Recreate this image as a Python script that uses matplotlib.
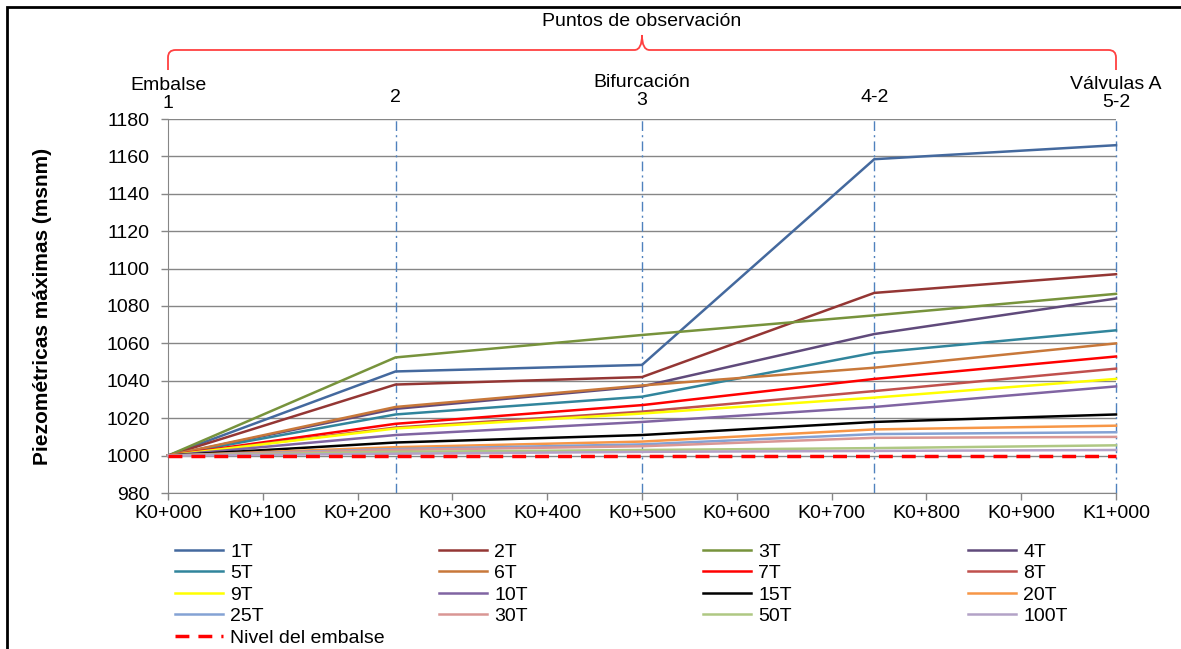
import matplotlib
matplotlib.use("Agg")
import matplotlib.pyplot as plt
from matplotlib.path import Path
from matplotlib.patches import PathPatch, Rectangle

plt.rcParams['font.family'] = ['Liberation Sans', 'DejaVu Sans']

#----------------------------------------------------------------------------------
# Data
stations = [0, 240, 500, 745, 1000]          # chainage of observation points (m)
station_names = ["Embalse\n1", "2", "Bifurcación\n3", "4-2", "Válvulas A\n5-2"]
xtick_labels = ["K0+000", "K0+100", "K0+200", "K0+300", "K0+400", "K0+500",
                "K0+600", "K0+700", "K0+800", "K0+900", "K1+000"]

series_names = ["1T", "2T", "3T", "4T", "5T", "6T", "7T", "8T", "9T",
                "10T", "15T", "20T", "25T", "30T", "50T", "100T"]
p_1T = [1000, 1045, 1048.5, 1158.5, 1166]
p_2T = [1000, 1038, 1042, 1087, 1097]
p_3T = [1000, 1052.5, 1064.5, 1075, 1086.5]
p_4T = [1000, 1025, 1037, 1065, 1084]
p_5T = [1000, 1022, 1031.5, 1055, 1067]
p_6T = [1000, 1026, 1037.5, 1047, 1060]
p_7T = [1000, 1017, 1027, 1041, 1053]
p_8T = [1000, 1015, 1023.5, 1034.5, 1046.5]
p_9T = [1000, 1014.5, 1022.5, 1031, 1041]
p_10T = [1000, 1011, 1018, 1026, 1037]
p_15T = [1000, 1007, 1011, 1018, 1022]
p_20T = [1000, 1004.5, 1007.5, 1014, 1016]
p_25T = [1000, 1003.5, 1006, 1011.5, 1012.5]
p_30T = [1000, 1003, 1005, 1009.5, 1010]
p_50T = [1000, 1002, 1003, 1004, 1005.5]
p_100T = [1000, 1001, 1002, 1002.5, 1003]
reservoir_level = [1000, 1000, 1000, 1000, 1000]

series_values = [p_1T, p_2T, p_3T, p_4T, p_5T, p_6T, p_7T, p_8T, p_9T,
                 p_10T, p_15T, p_20T, p_25T, p_30T, p_50T, p_100T]
series_colors = ["#44699E", "#943634", "#77933C", "#604A7B", "#31859C", "#C8783A",
                 "#FF0000", "#C0504D", "#FFFF00", "#8064A2", "#000000", "#F79646",
                 "#84A2D4", "#D99694", "#AFC883", "#B3A2C7"]

FS = 14
GRAY = "#868686"

#----------------------------------------------------------------------------------
fig = plt.figure(figsize=(11.81, 6.49), dpi=100)
ax = fig.add_axes([168/1181, 1 - 493/649, 948/1181, 374/649])

handles = []
for name, vals, col in zip(series_names, series_values, series_colors):
    h, = ax.plot(stations, vals, color=col, lw=1.8, label=name, zorder=3,
                 clip_on=False, solid_joinstyle='miter')
    handles.append(h)

lvl, = ax.plot(stations, reservoir_level, color="#FF0000", lw=2.5,
               dashes=(4, 2.6), label="Nivel del embalse", zorder=5, clip_on=False)

# observation points
for s in stations[1:]:
    ax.axvline(s, color="#4F81BD", lw=1.0, ls=(0, (7, 3, 1.5, 3)), zorder=2,
               clip_on=False)

ax.set_xlim(0, 1000)
ax.set_ylim(980, 1180)
ax.set_yticks(range(980, 1181, 20))
ax.set_xticks(range(0, 1001, 100))
ax.set_xticklabels(xtick_labels)
ax.tick_params(labelsize=FS, color=GRAY, length=5, width=1, direction='out')
ax.tick_params(axis='y', pad=8)
ax.tick_params(axis='x', pad=4)
ax.yaxis.grid(True, color=GRAY, lw=1)
ax.set_axisbelow(True)
for sp in ["top", "right"]:
    ax.spines[sp].set_visible(False)
for sp in ["left", "bottom"]:
    ax.spines[sp].set_color(GRAY)
ax.set_ylabel("Piezométricas máximas (msnm)", fontsize=15, fontweight='bold')
ax.yaxis.set_label_coords(-0.122, 0.5)

# labels above the plot
tx = ax.get_xaxis_transform()
label_y = [1.019, 1.035, 1.027, 1.035, 1.021]
for s, name, y in zip(stations, station_names, label_y):
    ax.text(s, y, name, transform=tx, ha='center', va='bottom', fontsize=FS,
            linespacing=1.1)

# brace "Puntos de observacion"
yb, ye, yt = 1.1845, 1.131, 1.2246
r = 8
verts = [(0, ye), (0, yb - 0.02), (0, yb), (r, yb),
         (500 - r, yb), (500, yb), (500, yt),
         (500, yb), (500 + r, yb),
         (1000 - r, yb), (1000, yb), (1000, yb - 0.02), (1000, ye)]
codes = [Path.MOVETO, Path.LINETO, Path.CURVE3, Path.CURVE3,
         Path.LINETO, Path.CURVE3, Path.CURVE3,
         Path.CURVE3, Path.CURVE3,
         Path.LINETO, Path.CURVE3, Path.CURVE3, Path.LINETO]
ax.add_patch(PathPatch(Path(verts, codes), transform=tx, fill=False,
                       edgecolor="#FF4040", lw=1.3, clip_on=False))
ax.text(500, 1.26, "Puntos de observación", transform=tx, ha='center',
        va='center', fontsize=FS)

# legend, one block per column (Excel-like fixed columns)
all_handles = handles + [lvl]
columns = [[0, 4, 8, 12, 16], [1, 5, 9, 13], [2, 6, 10, 14], [3, 7, 11, 15]]
col_x = [175, 439, 703, 968]
for idx, x0 in zip(columns, col_x):
    hs = [all_handles[i] for i in idx]
    fig.legend(hs, [h.get_label() for h in hs], loc='upper left',
               bbox_to_anchor=(x0/1181, 1 - 543/649), frameon=False,
               fontsize=FS, handlelength=2.47, handletextpad=0.36,
               labelspacing=0.2, borderpad=0, borderaxespad=0)

# outer frame
fig.add_artist(Rectangle((7/1181, -0.05), 1.1, 1.05 - 7/649,
                         transform=fig.transFigure, fill=False,
                         edgecolor='black', lw=2))

fig.savefig("out.png", dpi=100)
